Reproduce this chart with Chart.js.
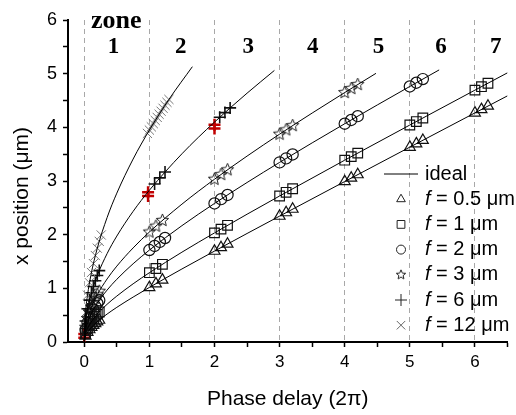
<!DOCTYPE html>
<html>
<head>
<meta charset="utf-8">
<script src="https://cdn.jsdelivr.net/npm/chart.js@4.4.0/dist/chart.umd.min.js"></script>
<style>
    html, body { margin: 0; padding: 0; background: #fff; }
</style>
</head>
<body>
<canvas id="zone-chart" width="516" height="415"></canvas>
<script>
// ideal curves, phase delay (2pi) vs x position (um)
const idealPhaseF05 = [0, 0.02, 0.05, 0.1, 0.2, 0.35, 0.5, 0.75, 1, 1.5, 2, 2.5, 3, 4, 5, 6, 6.5];
const idealPosF05 = [0, 0.113, 0.181, 0.259, 0.378, 0.520, 0.646, 0.837, 1.017, 1.361, 1.694, 2.022, 2.346, 2.990, 3.631, 4.269, 4.587];
const idealPhaseF1 = [0, 0.02, 0.05, 0.1, 0.2, 0.35, 0.5, 0.75, 1, 1.5, 2, 2.5, 3, 4, 5, 6, 6.5];
const idealPosF1 = [0, 0.160, 0.254, 0.361, 0.519, 0.702, 0.856, 1.084, 1.291, 1.674, 2.033, 2.381, 2.721, 3.388, 4.043, 4.693, 5.016];
const idealPhaseF2 = [0, 0.02, 0.05, 0.1, 0.2, 0.35, 0.5, 0.75, 1, 1.5, 2, 2.5, 3, 4, 5, 5.45];
const idealPosF2 = [0, 0.225, 0.357, 0.507, 0.723, 0.967, 1.169, 1.458, 1.713, 2.168, 2.582, 2.972, 3.347, 4.067, 4.762, 5.070];
const idealPhaseF3 = [0, 0.02, 0.05, 0.1, 0.2, 0.35, 0.5, 0.75, 1, 1.5, 2, 2.5, 3, 3.5, 4, 4.48];
const idealPosF3 = [0, 0.276, 0.437, 0.620, 0.881, 1.174, 1.414, 1.753, 2.049, 2.569, 3.033, 3.464, 3.873, 4.266, 4.648, 5.006];
const idealPhaseF6 = [0, 0.02, 0.05, 0.1, 0.2, 0.35, 0.5, 0.75, 1, 1.5, 2, 2.5, 2.92];
const idealPosF6 = [0, 0.390, 0.617, 0.874, 1.239, 1.646, 1.974, 2.434, 2.828, 3.507, 4.098, 4.636, 5.060];
const idealPhaseF12 = [0, 0.02, 0.05, 0.1, 0.2, 0.35, 0.5, 0.75, 1, 1.3, 1.66];
const idealPosF12 = [0, 0.551, 0.872, 1.234, 1.748, 2.317, 2.774, 3.409, 3.949, 4.520, 5.130];

// simulated points
const markPhaseF05 = [0.02, 0.05, 0.08, 0.11, 0.14, 0.17, 0.2, 0.23, 1, 1.1, 1.2, 2, 2.1, 2.2, 3, 3.1, 3.2, 4, 4.1, 4.2, 5, 5.1, 5.2, 6, 6.1, 6.2];
const markPosF05 = [0.113, 0.181, 0.231, 0.273, 0.311, 0.345, 0.378, 0.408, 1.017, 1.087, 1.156, 1.694, 1.760, 1.825, 2.346, 2.411, 2.476, 2.990, 3.055, 3.119, 3.631, 3.695, 3.759, 4.269, 4.333, 4.397];
const markPhaseF1 = [0.02, 0.05, 0.08, 0.11, 0.14, 0.17, 0.2, 0.23, 1, 1.1, 1.2, 2, 2.1, 2.2, 3, 3.1, 3.2, 4, 4.1, 4.2, 5, 5.1, 5.2, 6, 6.1, 6.2];
const markPosF1 = [0.160, 0.254, 0.322, 0.380, 0.430, 0.476, 0.519, 0.559, 1.291, 1.370, 1.448, 2.033, 2.104, 2.174, 2.721, 2.789, 2.856, 3.388, 3.454, 3.519, 4.043, 4.108, 4.174, 4.693, 4.757, 4.822];
const markPhaseF2 = [0.02, 0.05, 0.08, 0.11, 0.14, 0.17, 0.2, 0.23, 1, 1.08, 1.16, 1.24, 2, 2.1, 2.2, 3, 3.1, 3.2, 4, 4.1, 4.2, 5, 5.1, 5.2];
const markPosF2 = [0.225, 0.357, 0.453, 0.532, 0.602, 0.665, 0.723, 0.777, 1.713, 1.789, 1.865, 1.938, 2.582, 2.662, 2.740, 3.347, 3.421, 3.494, 4.067, 4.137, 4.208, 4.762, 4.831, 4.899];
const markPhaseF3 = [0.02, 0.05, 0.08, 0.11, 0.14, 0.17, 0.2, 0.23, 1, 1.1, 1.2, 2, 2.1, 2.2, 3, 3.1, 3.2, 4, 4.1, 4.2];
const markPosF3 = [0.276, 0.437, 0.554, 0.650, 0.735, 0.811, 0.881, 0.946, 2.049, 2.159, 2.266, 3.033, 3.121, 3.209, 3.873, 3.953, 4.032, 4.648, 4.723, 4.798];
const markPhaseF6 = [0.02, 0.05, 0.08, 0.11, 0.14, 0.17, 0.2, 0.23, 1.08, 1.16, 1.24, 2.08, 2.16, 2.24];
const markPosF6 = [0.390, 0.617, 0.781, 0.917, 1.035, 1.141, 1.239, 1.330, 2.945, 3.058, 3.168, 4.187, 4.275, 4.362];
const markPhaseF12 = [0.02, 0.05, 0.08, 0.11, 0.14, 0.17, 0.2, 0.23, 0.26, 0.97, 1, 1.03, 1.06, 1.09, 1.12, 1.15, 1.18, 1.21, 1.24, 1.27, 1.3];
const markPosF12 = [0.551, 0.872, 1.104, 1.295, 1.461, 1.611, 1.748, 1.875, 1.994, 3.887, 3.949, 4.009, 4.069, 4.128, 4.185, 4.243, 4.300, 4.355, 4.411, 4.466, 4.520];

// red highlighted points
const redPhase = [0, 0, 0.98, 0.98, 2, 2];
const redPos = [0.08, 0.15, 2.72, 2.79, 3.98, 4.05];

const zoneLabels = ['1', '2', '3', '4', '5', '6', '7'];
const zoneCenters = [0.45, 1.48, 2.52, 3.51, 4.52, 5.48, 6.32];
const legendFocal = ['0.5', '1', '2', '3', '6', '12'];

const sansFont = "'Liberation Sans', Arial, sans-serif";
const serifFont = "'Liberation Serif', 'Times New Roman', serif";

function toPoints(xs, ys) {
    return xs.map((x, i) => ({x: x, y: ys[i]}));
}

// open five point star, chart.js has no such point style
function makeStar(r) {
    const cv = document.createElement('canvas');
    const size = Math.ceil(r * 2 + 4);
    cv.width = size;
    cv.height = size;
    const c = cv.getContext('2d');
    c.translate(size / 2, size / 2);
    c.beginPath();
    for (let i = 0; i < 10; i++) {
        const rad = i % 2 ? r * 0.45 : r;
        const a = -Math.PI / 2 + i * Math.PI / 5;
        c.lineTo(rad * Math.cos(a), rad * Math.sin(a));
    }
    c.closePath();
    c.lineWidth = 1;
    c.strokeStyle = '#222';
    c.stroke();
    return cv;
}

const starBig = makeStar(6.5);
const starSmall = makeStar(5);

function curve(xs, ys) {
    return {
        data: toPoints(xs, ys),
        showLine: true,
        borderColor: '#000',
        borderWidth: 1,
        pointRadius: 0,
        cubicInterpolationMode: 'monotone'
    };
}

function marks(xs, ys, style, radius, color, width) {
    return {
        data: toPoints(xs, ys),
        showLine: false,
        pointStyle: style,
        pointRadius: radius,
        pointBorderColor: color,
        pointBackgroundColor: 'rgba(0,0,0,0)',
        pointBorderWidth: width
    };
}

const legendRows = [
    {style: 'triangle', radius: 5, color: '#222', width: 1},
    {style: 'rect', radius: 5.5, color: '#222', width: 1},
    {style: 'circle', radius: 4.5, color: '#222', width: 1},
    {style: starSmall, radius: 5, color: '#222', width: 1},
    {style: 'cross', radius: 6, color: '#222', width: 1},
    {style: 'crossRot', radius: 6, color: '#666', width: 1}
];

const overlayPlugin = {
    id: 'overlay',
    afterDraw(chart) {
        const ctx = chart.ctx;
        const xs = chart.scales.x;
        const ys = chart.scales.y;
        ctx.save();
        ctx.fillStyle = '#000';
        ctx.textAlign = 'center';
        ctx.textBaseline = 'middle';

        // zone labels
        ctx.font = "bold 26px " + serifFont;
        ctx.fillText('zone', xs.getPixelForValue(0.49), ys.getPixelForValue(6.0) + 1);
        ctx.font = "bold 23px " + serifFont;
        zoneLabels.forEach((label, i) => {
            ctx.fillText(label, xs.getPixelForValue(zoneCenters[i]), ys.getPixelForValue(5.5));
        });

        // y axis title
        ctx.save();
        ctx.translate(22, 196);
        ctx.rotate(-Math.PI / 2);
        ctx.font = "21px " + sansFont;
        ctx.fillText('x position (\u03bcm)', 0, 0);
        ctx.restore();

        // legend
        const lx = 401, tx = 425, y0 = 174, dy = 25.2;
        ctx.strokeStyle = '#000';
        ctx.lineWidth = 1;
        ctx.beginPath();
        ctx.moveTo(384, y0);
        ctx.lineTo(418, y0);
        ctx.stroke();
        ctx.textAlign = 'left';
        ctx.font = "20px " + sansFont;
        ctx.fillText('ideal', tx, y0);
        legendRows.forEach((row, i) => {
            const y = y0 + dy * (i + 1);
            ctx.strokeStyle = row.color;
            ctx.fillStyle = 'rgba(0,0,0,0)';
            ctx.lineWidth = row.width;
            Chart.helpers.drawPoint(ctx, {pointStyle: row.style, radius: row.radius, borderWidth: row.width, rotation: 0}, lx, y);
            ctx.fillStyle = '#000';
            ctx.font = "italic 20px " + sansFont;
            ctx.fillText('f', tx, y);
            const fw = ctx.measureText('f').width;
            ctx.font = "20px " + sansFont;
            ctx.fillText(' = ' + legendFocal[i] + ' \u03bcm', tx + fw, y);
        });
        ctx.restore();
    }
};

const config = {
    type: 'scatter',
    data: {
        datasets: [
            curve(idealPhaseF05, idealPosF05),
            curve(idealPhaseF1, idealPosF1),
            curve(idealPhaseF2, idealPosF2),
            curve(idealPhaseF3, idealPosF3),
            curve(idealPhaseF6, idealPosF6),
            curve(idealPhaseF12, idealPosF12),
            marks(markPhaseF05, markPosF05, 'triangle', 6.3, '#111', 1.2),
            marks(markPhaseF1, markPosF1, 'rect', 6.8, '#111', 1.2),
            marks(markPhaseF2, markPosF2, 'circle', 5.6, '#111', 1.2),
            marks(markPhaseF3, markPosF3, starBig, 6.5, '#111', 1),
            marks(markPhaseF12, markPosF12, 'crossRot', 6.5, '#777', 1),
            marks(markPhaseF6, markPosF6, 'cross', 6, '#111', 1.6),
            marks(redPhase, redPos, 'cross', 6, '#c00000', 2.5)
        ]
    },
    options: {
        responsive: false,
        animation: false,
        layout: {padding: {top: 20, right: 8, left: 0, bottom: 0}},
        plugins: {
            legend: {display: false},
            tooltip: {enabled: false}
        },
        scales: {
            x: {
                type: 'linear',
                min: -0.25,
                max: 6.5,
                afterFit: (scale) => { scale.height = 73; },
                ticks: {
                    stepSize: 0.5,
                    includeBounds: false,
                    autoSkip: false,
                    maxRotation: 0,
                    padding: 5,
                    color: '#000',
                    font: {family: sansFont, size: 17},
                    callback: (v) => Number.isInteger(v) ? v : ''
                },
                grid: {
                    drawOnChartArea: true,
                    color: (ctx) => {
                        const v = ctx.tick ? ctx.tick.value : null;
                        return (v !== null && Number.isInteger(v) && v >= 0 && v <= 6) ? '#a8a8a8' : 'rgba(0,0,0,0)';
                    },
                    lineWidth: 1,
                    tickColor: '#000',
                    tickLength: 5,
                    tickWidth: 1.5
                },
                border: {display: true, color: '#000', width: 2, dash: [5, 4]},
                title: {
                    display: true,
                    text: 'Phase delay (2\u03c0)',
                    color: '#000',
                    font: {family: sansFont, size: 21},
                    padding: {top: 0, bottom: 3}
                }
            },
            y: {
                type: 'linear',
                min: 0,
                max: 6,
                afterFit: (scale) => { scale.width = 68; },
                ticks: {
                    stepSize: 0.5,
                    autoSkip: false,
                    padding: 6,
                    color: '#000',
                    font: {family: sansFont, size: 18},
                    callback: (v) => Number.isInteger(v) ? v : ''
                },
                grid: {
                    drawOnChartArea: false,
                    tickColor: '#000',
                    tickLength: 5,
                    tickWidth: 1.5
                },
                border: {display: true, color: '#000', width: 2}
            }
        }
    },
    plugins: [overlayPlugin]
};

new Chart(document.getElementById('zone-chart'), config);
</script>
</body>
</html>
